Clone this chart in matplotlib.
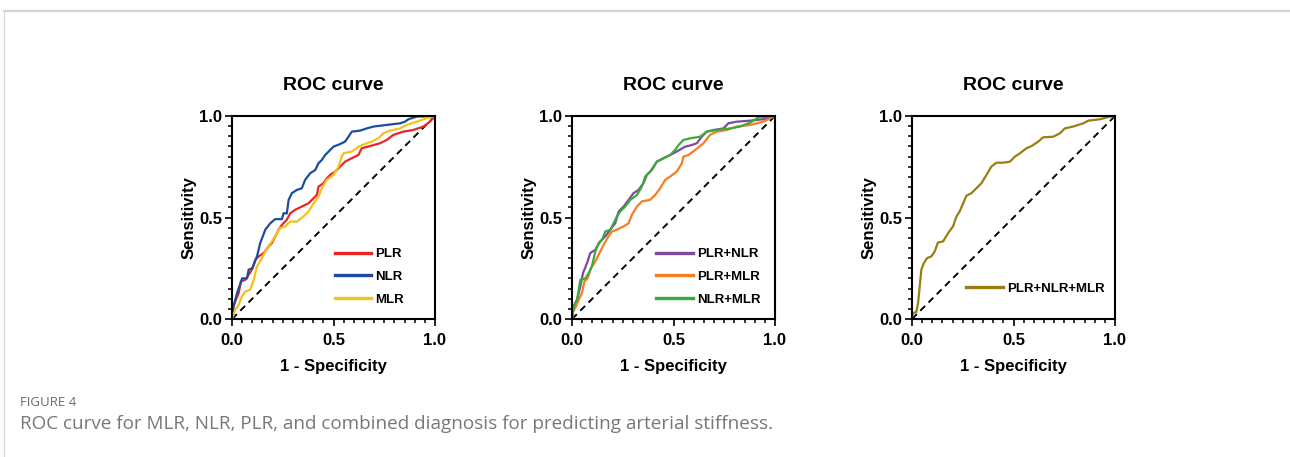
import numpy as np
import matplotlib
matplotlib.use("Agg")
import matplotlib.pyplot as plt
from matplotlib.ticker import MultipleLocator, FormatStrFormatter
from matplotlib.lines import Line2D

plt.rcParams["font.family"] = ["Liberation Sans", "DejaVu Sans"]

# ---- data (1 - specificity, sensitivity) ----
plr_fpr = [0, 0, 0.016, 0.033, 0.044, 0.066, 0.082, 0.098, 0.115, 0.131, 0.156, 0.18, 0.197, 0.213,
           0.23, 0.246, 0.27, 0.287, 0.311, 0.344, 0.377, 0.402, 0.418, 0.426, 0.451, 0.467, 0.484,
           0.508, 0.533, 0.557, 0.59, 0.623, 0.639, 0.68, 0.73, 0.762, 0.795, 0.844, 0.893, 0.943,
           0.975, 1.0]
plr_tpr = [0, 0.046, 0.087, 0.128, 0.185, 0.193, 0.218, 0.243, 0.292, 0.308, 0.325, 0.357, 0.374,
           0.407, 0.44, 0.464, 0.489, 0.521, 0.538, 0.554, 0.57, 0.595, 0.611, 0.652, 0.669, 0.693,
           0.71, 0.726, 0.751, 0.775, 0.792, 0.808, 0.841, 0.852, 0.866, 0.882, 0.907, 0.923, 0.931,
           0.948, 0.972, 1.0]

nlr_fpr = [0, 0.008, 0.025, 0.05, 0.074, 0.082, 0.10, 0.123, 0.139, 0.164, 0.189, 0.213, 0.246,
           0.254, 0.27, 0.279, 0.295, 0.32, 0.344, 0.36, 0.385, 0.41, 0.426, 0.443, 0.459, 0.484,
           0.5, 0.533, 0.557, 0.574, 0.59, 0.631, 0.664, 0.697, 0.762, 0.828, 0.852, 0.869, 0.91, 1.0]
nlr_tpr = [0, 0.062, 0.128, 0.2, 0.2, 0.243, 0.25, 0.308, 0.374, 0.44, 0.472, 0.492, 0.492, 0.521,
           0.52, 0.587, 0.62, 0.636, 0.644, 0.685, 0.718, 0.734, 0.767, 0.784, 0.808, 0.833, 0.849,
           0.862, 0.874, 0.898, 0.923, 0.928, 0.939, 0.948, 0.956, 0.964, 0.972, 0.984, 0.997, 1.0]

mlr_fpr = [0, 0.016, 0.033, 0.049, 0.066, 0.09, 0.107, 0.123, 0.148, 0.172, 0.197, 0.221, 0.238,
           0.262, 0.287, 0.32, 0.352, 0.377, 0.402, 0.426, 0.443, 0.467, 0.5, 0.525, 0.541, 0.549,
           0.59, 0.623, 0.664, 0.689, 0.721, 0.746, 0.779, 0.828, 0.861, 0.91, 0.959, 1.0]
mlr_tpr = [0, 0.046, 0.07, 0.111, 0.136, 0.144, 0.193, 0.259, 0.3, 0.349, 0.382, 0.423, 0.448,
           0.456, 0.48, 0.48, 0.505, 0.53, 0.57, 0.603, 0.644, 0.685, 0.71, 0.751, 0.8, 0.816,
           0.825, 0.849, 0.866, 0.874, 0.89, 0.915, 0.928, 0.939, 0.956, 0.972, 0.989, 1.0]

pn_fpr = [0, 0.008, 0.025, 0.041, 0.054, 0.074, 0.09, 0.115, 0.139, 0.164, 0.189, 0.213, 0.23,
          0.254, 0.279, 0.303, 0.328, 0.352, 0.369, 0.393, 0.418, 0.451, 0.484, 0.516, 0.557,
          0.59, 0.615, 0.639, 0.664, 0.697, 0.746, 0.77, 0.811, 0.877, 0.943, 0.975, 1.0]
pn_tpr = [0, 0.062, 0.095, 0.16, 0.226, 0.275, 0.325, 0.341, 0.382, 0.407, 0.44, 0.472, 0.53,
          0.554, 0.587, 0.62, 0.636, 0.669, 0.71, 0.734, 0.775, 0.792, 0.808, 0.825, 0.849,
          0.857, 0.866, 0.898, 0.923, 0.931, 0.939, 0.964, 0.972, 0.977, 0.984, 0.993, 1.0]

pm_fpr = [0, 0, 0.016, 0.033, 0.049, 0.061, 0.077, 0.093, 0.115, 0.131, 0.156, 0.18, 0.197, 0.221,
          0.254, 0.279, 0.295, 0.32, 0.344, 0.385, 0.41, 0.434, 0.459, 0.484, 0.516, 0.541,
          0.549, 0.574, 0.607, 0.648, 0.68, 0.713, 0.762, 0.811, 0.877, 0.943, 0.975, 1.0]
pm_tpr = [0, 0.03, 0.054, 0.095, 0.128, 0.185, 0.2, 0.25, 0.284, 0.316, 0.366, 0.407, 0.431, 0.44,
          0.456, 0.472, 0.513, 0.554, 0.579, 0.587, 0.611, 0.644, 0.685, 0.702, 0.726, 0.767,
          0.8, 0.808, 0.833, 0.866, 0.907, 0.923, 0.931, 0.948, 0.956, 0.972, 0.989, 1.0]

nm_fpr = [0, 0.011, 0.025, 0.041, 0.066, 0.082, 0.098, 0.115, 0.131, 0.148, 0.164, 0.189, 0.205,
          0.221, 0.238, 0.262, 0.287, 0.32, 0.344, 0.361, 0.385, 0.418, 0.451, 0.484, 0.508,
          0.525, 0.549, 0.582, 0.631, 0.664, 0.713, 0.779, 0.828, 0.877, 0.918, 1.0]
nm_tpr = [0, 0.07, 0.095, 0.193, 0.2, 0.226, 0.259, 0.333, 0.374, 0.39, 0.431, 0.44, 0.472,
          0.505, 0.53, 0.554, 0.587, 0.611, 0.652, 0.702, 0.726, 0.775, 0.792, 0.808, 0.833,
          0.857, 0.882, 0.89, 0.898, 0.923, 0.931, 0.939, 0.948, 0.967, 0.993, 1.0]

all_fpr = [0, 0.005, 0.021, 0.03, 0.038, 0.046, 0.058, 0.074, 0.095, 0.112, 0.128, 0.153, 0.178,
           0.202, 0.219, 0.235, 0.252, 0.268, 0.293, 0.317, 0.342, 0.367, 0.391, 0.416, 0.449,
           0.482, 0.507, 0.531, 0.564, 0.589, 0.622, 0.646, 0.696, 0.729, 0.753, 0.794, 0.844,
           0.868, 0.926, 0.975, 1.0]
all_tpr = [0, 0.03, 0.033, 0.079, 0.16, 0.243, 0.275, 0.3, 0.308, 0.333, 0.377, 0.382, 0.423,
           0.456, 0.505, 0.53, 0.57, 0.607, 0.62, 0.644, 0.669, 0.71, 0.751, 0.77, 0.77, 0.775,
           0.8, 0.816, 0.841, 0.852, 0.874, 0.895, 0.898, 0.915, 0.939, 0.948, 0.964, 0.977,
           0.984, 0.997, 1.0]

panels = [
    [("PLR", plr_fpr, plr_tpr, "#E8262A"),
     ("NLR", nlr_fpr, nlr_tpr, "#1D4C9F"),
     ("MLR", mlr_fpr, mlr_tpr, "#F4C21B")],
    [("PLR+NLR", pn_fpr, pn_tpr, "#7E4A9F"),
     ("PLR+MLR", pm_fpr, pm_tpr, "#F47E20"),
     ("NLR+MLR", nm_fpr, nm_tpr, "#3BAA3A")],
    [("PLR+NLR+MLR", all_fpr, all_tpr, "#9A7E12")],
]
lefts = [232, 572, 912]
legend_anchor = [(0.505, 0.065), (0.414, 0.065), (0.266, 0.118)]

W, H = 1290, 457
fig = plt.figure(figsize=(W / 100, H / 100), dpi=100)

for i, series in enumerate(panels):
    ax = fig.add_axes([lefts[i] / W, (H - 319) / H, 203 / W, 203 / H])
    ax.plot([0, 1], [0, 1], color="black", lw=1.4, ls=(0, (3.5, 2.5)), zorder=1)
    for name, x, y, c in series:
        ax.plot(x, y, color=c, lw=1.6, label=name, zorder=2)
    ax.set_xlim(0, 1)
    ax.set_ylim(0, 1)
    ax.xaxis.set_major_locator(MultipleLocator(0.5))
    ax.yaxis.set_major_locator(MultipleLocator(0.5))
    ax.xaxis.set_minor_locator(MultipleLocator(0.05))
    ax.yaxis.set_minor_locator(MultipleLocator(0.05))
    ax.xaxis.set_major_formatter(FormatStrFormatter("%.1f"))
    ax.yaxis.set_major_formatter(FormatStrFormatter("%.1f"))
    ax.tick_params(which="major", length=5, width=1.2, labelsize=12, direction="out")
    ax.tick_params(which="minor", length=3, width=1.1, direction="out")
    ax.tick_params(axis="x", which="major", pad=5)
    ax.tick_params(axis="y", which="major", pad=2)
    for lab in ax.get_xticklabels() + ax.get_yticklabels():
        lab.set_fontweight("bold")
    for s in ax.spines.values():
        s.set_linewidth(1.5)
    ax.set_title("ROC curve", fontsize=14, fontweight="bold", pad=18.5)
    ax.set_xlabel("1 - Specificity", fontsize=12, fontweight="bold", labelpad=8)
    ax.set_ylabel("Sensitivity", fontsize=12, fontweight="bold", labelpad=2)
    leg = ax.legend(loc="lower left", bbox_to_anchor=legend_anchor[i], frameon=False,
                    borderpad=0, borderaxespad=0, handlelength=2.8, handletextpad=0.3,
                    labelspacing=0.8, prop={"weight": "bold", "size": 9.5})
    for h in leg.get_lines():
        h.set_linewidth(2.4)

# page frame
fig.add_artist(Line2D([4 / W, 1], [1 - 11 / H, 1 - 11 / H], color="#d4d4d4", lw=1.6))
fig.add_artist(Line2D([4 / W, 4 / W], [0, 1 - 11 / H], color="#d4d4d4", lw=0.8))

fig.text(20 / W, 1 - 403 / H, "FIGURE 4", fontsize=9.5, color="#6b6b6b",
         family=["Open Sans", "DejaVu Sans"], va="center")
fig.text(20 / W, 1 - 424 / H,
         "ROC curve for MLR, NLR, PLR, and combined diagnosis for predicting arterial stiffness.",
         fontsize=13.6, color="#777777", family=["Open Sans", "DejaVu Sans"], va="center")

fig.savefig("out.png", dpi=100)
